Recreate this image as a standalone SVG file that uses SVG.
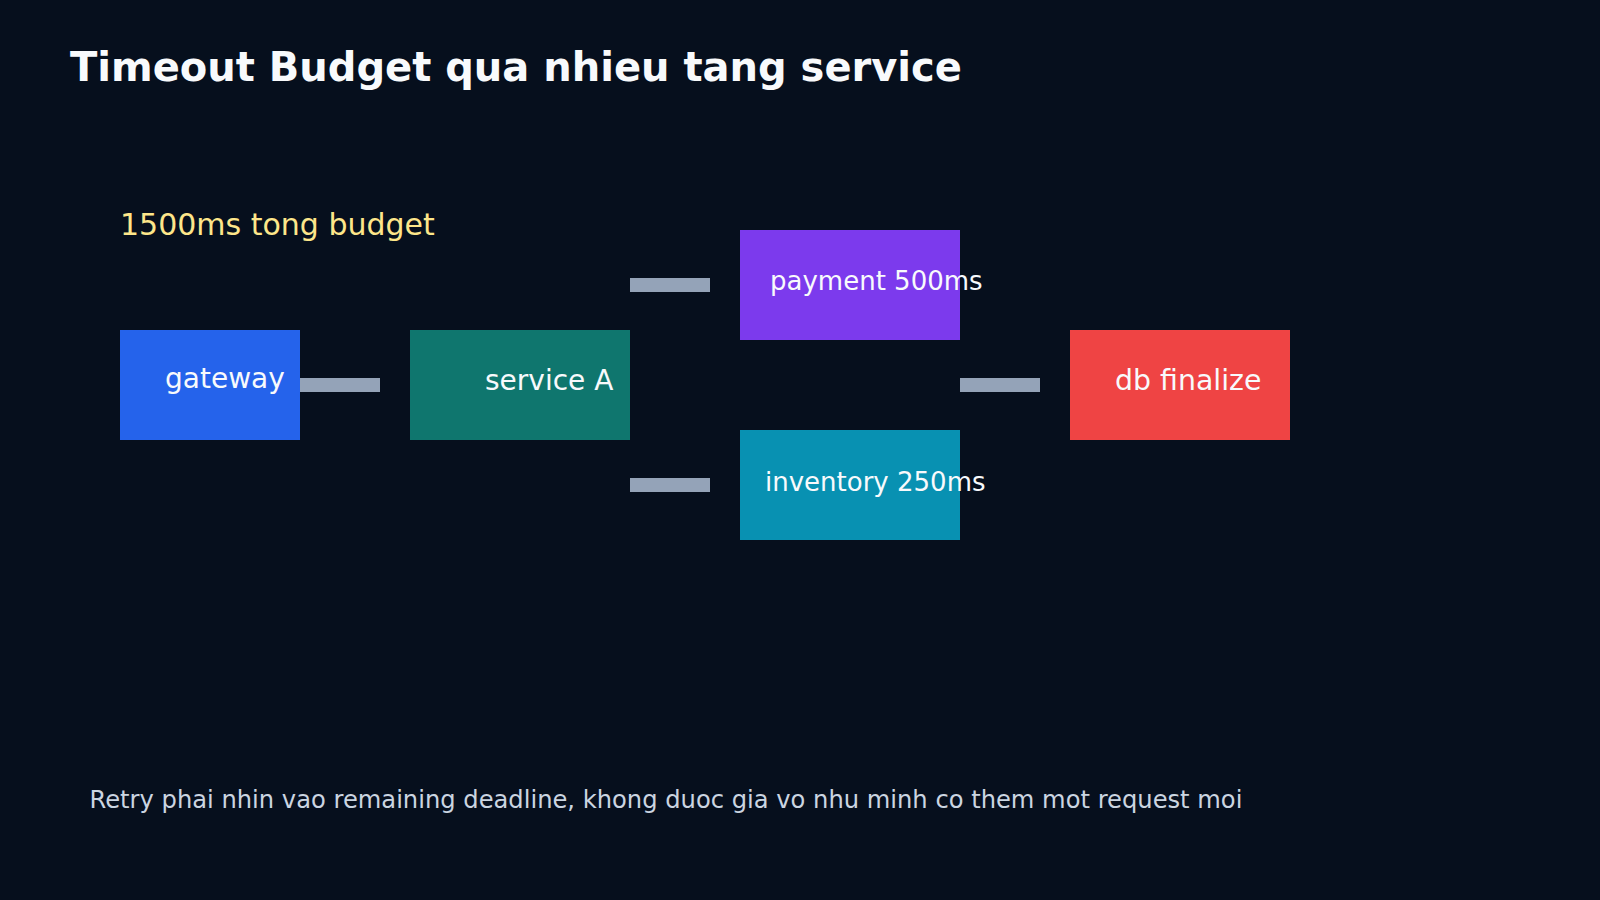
<svg xmlns="http://www.w3.org/2000/svg" width="1600" height="900" viewBox="0 0 1600 900">
<style>
text{font-family:"DejaVu Sans","Liberation Sans",sans-serif}
.title{font-size:40px;font-weight:bold;fill:#f8fafc}
.lbl{font-size:28px;fill:#f8fafc}
.lbl2{font-size:26px;fill:#f8fafc}
.budget{font-size:30px;fill:#fde68a}
.note{font-size:24.2px;fill:#cbd5e1}
.bar{fill:#94a3b8}
</style>
<rect x="0" y="0" width="1600" height="900" fill="#060f1d"/>
<text class="title" x="70" y="81">Timeout Budget qua nhieu tang service</text>
<text class="budget" x="120" y="235">1500ms tong budget</text>
<g id="connectors">
<rect class="bar" x="300" y="378" width="80" height="14"/>
<rect class="bar" x="630" y="278" width="80" height="14"/>
<rect class="bar" x="630" y="478" width="80" height="14"/>
<rect class="bar" x="960" y="378" width="80" height="14"/>
</g>
<g id="gateway">
<rect x="120" y="330" width="180" height="110" fill="#2563eb"/>
<text class="lbl" x="165" y="388">gateway</text>
</g>
<g id="serviceA">
<rect x="410" y="330" width="220" height="110" fill="#0f766e"/>
<text class="lbl" x="485" y="390">service A</text>
</g>
<g id="payment">
<rect x="740" y="230" width="220" height="110" fill="#7c3aed"/>
<text class="lbl2" x="770" y="290">payment 500ms</text>
</g>
<g id="inventory">
<rect x="740" y="430" width="220" height="110" fill="#0891b2"/>
<text class="lbl2" x="765" y="491">inventory 250ms</text>
</g>
<g id="db">
<rect x="1070" y="330" width="220" height="110" fill="#ef4444"/>
<text class="lbl" x="1115" y="390" style="font-size:28.4px">db finalize</text>
</g>
<text class="note" x="89.5" y="808">Retry phai nhin vao remaining deadline, khong duoc gia vo nhu minh co them mot request moi</text>
</svg>
